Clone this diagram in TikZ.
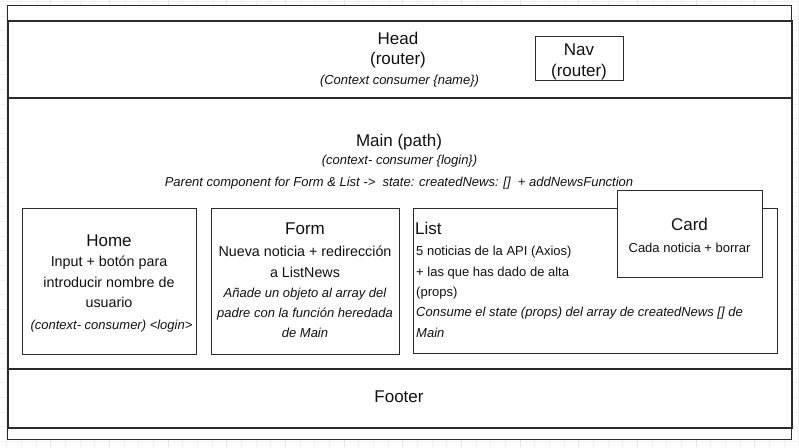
\documentclass[tikz,border=0pt]{standalone}
\usepackage{fontspec}
\setmainfont{Liberation Sans}
\definecolor{edge}{HTML}{2B2B2B}
\definecolor{gridminor}{HTML}{F0F0F0}
\definecolor{gridmajor}{HTML}{E3E3E3}
\definecolor{ink}{HTML}{111111}
\newcommand{\ttlfont}{\fontsize{17}{20}\selectfont}
\newcommand{\bdyfont}{\fontsize{14.3}{20}\selectfont}
\newcommand{\smlfont}{\fontsize{13}{20}\selectfont}
\begin{document}
\begin{tikzpicture}[x=1pt,y=-1pt,
  box/.style={draw=edge,line width=1.2pt,fill=white,inner sep=0pt,anchor=north west},
  band/.style={draw=edge,line width=1.5pt,fill=white,inner sep=0pt,anchor=north west},
  lbl/.style={inner sep=0pt,anchor=base,text=ink},
  lbll/.style={inner sep=0pt,anchor=base west,text=ink}]
\useasboundingbox (0,0) rectangle (799,447);
\fill[white] (0,0) rectangle (799,447);
% background grid
\foreach \k in {0,...,54}{
  \pgfmathsetmacro{\gx}{6.7+14.667*\k}
  \draw[gridminor,line width=0.8pt] (\gx,0) -- (\gx,447);
}
\foreach \k in {0,...,30}{
  \pgfmathsetmacro{\gy}{1.3+14.667*\k}
  \draw[gridminor,line width=0.8pt] (0,\gy) -- (799,\gy);
}
\foreach \k in {0,...,13}{
  \pgfmathsetmacro{\gx}{50.7+58.667*\k}
  \draw[gridmajor,line width=0.8pt] (\gx,0) -- (\gx,447);
}
% frames
\node[box,minimum width=784pt,minimum height=434pt] (outer) at (7,5) {};
\node[band,minimum width=784pt,minimum height=77pt] (head) at (7,20) {};
\node[band,minimum width=784pt,minimum height=271pt] (main) at (7,97) {};
\node[band,minimum width=784pt,minimum height=59pt] (footer) at (7,368) {};
\node[box,minimum width=88pt,minimum height=44pt] (nav) at (535,36) {};
\node[box,minimum width=174pt,minimum height=146pt] (home) at (22,208) {};
\node[box,minimum width=188pt,minimum height=146pt] (form) at (211,208) {};
\node[box,minimum width=364pt,minimum height=145pt] (list) at (413,208) {};
\node[box,minimum width=145pt,minimum height=87pt] (card) at (617,190) {};
% Head texts
\node[lbl,font=\ttlfont] (headt) at (398,44.3) {Head};
\node[lbl,font=\ttlfont] (headr) at (398,64.8) {(router)};
\node[lbl,font=\smlfont\itshape] (headc) at (399.5,84.6) {(Context consumer \{name\})};
% Nav texts
\node[lbl,font=\ttlfont] (navt) at (579,55) {Nav};
\node[lbl,font=\ttlfont] (navr) at (579,76) {(router)};
% Main texts
\node[lbl,font=\ttlfont] (maint) at (399,146.7) {Main (path)};
\node[lbl,font=\smlfont\itshape] (mainc) at (399.5,164.3) {(context- consumer \{login\})};
\node[lbl,font=\smlfont\itshape] (mainp) at (399,186.7) {Parent component for Form \& List ->\ \ state: createdNews: []\ \ + addNewsFunction};
% Home texts
\node[lbl,font=\ttlfont] (homet) at (109,246.7) {Home};
\node[lbl,font=\bdyfont] (home1) at (109,266.7) {Input + botón para};
\node[lbl,font=\bdyfont] (home2) at (109,287.3) {introducir nombre de};
\node[lbl,font=\bdyfont] (home3) at (109,307.8) {usuario};
\node[lbl,font=\smlfont\itshape] (home4) at (111.5,329) {(context- consumer) <login>};
% Form texts
\node[lbl,font=\ttlfont] (formt) at (305,234.3) {Form};
\node[lbl,font=\bdyfont] (form1) at (305,256.7) {Nueva noticia + redirección};
\node[lbl,font=\bdyfont] (form2) at (305,277.2) {a ListNews};
\node[lbl,font=\smlfont\itshape] (form3) at (305,297.3) {Añade un objeto al array del};
\node[lbl,font=\smlfont\itshape] (form4) at (305,317.5) {padre con la función heredada};
\node[lbl,font=\smlfont\itshape] (form5) at (305,337.5) {de Main};
% List texts
\node[lbll,font=\ttlfont] (listt) at (415,234.3) {List};
\node[lbll,font=\smlfont] (list1) at (416,255.7) {5 noticias de la API (Axios)};
\node[lbll,font=\smlfont] (list2) at (416,276.2) {+ las que has dado de alta};
\node[lbll,font=\smlfont] (list3) at (416,296.7) {(props)};
\node[lbll,font=\smlfont\itshape] (list4) at (416,316.9) {Consume el state (props) del array de createdNews [] de};
\node[lbll,font=\smlfont\itshape] (list5) at (416,337.3) {Main};
% Card texts
\node[lbl,font=\ttlfont] (cardt) at (689.5,230) {Card};
\node[lbl,font=\smlfont] (card1) at (689.5,252.3) {Cada noticia + borrar};
% Footer text
\node[lbl,font=\ttlfont] (foott) at (399,402) {Footer};
\end{tikzpicture}
\end{document}
